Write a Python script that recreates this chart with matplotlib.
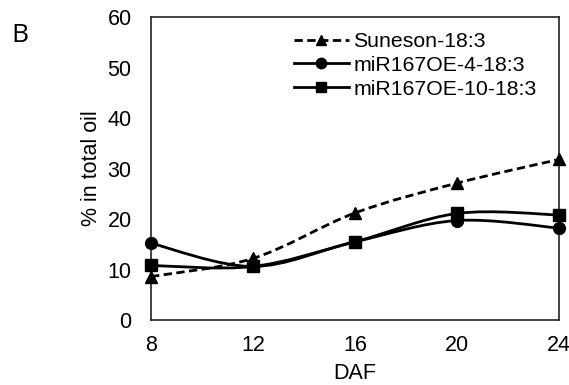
import numpy as np
import matplotlib
matplotlib.use('Agg')
import matplotlib.pyplot as plt
from matplotlib.path import Path
from matplotlib.patches import PathPatch
from matplotlib.lines import Line2D

plt.rcParams.update({
    'font.family': 'Liberation Sans',
    'font.size': 15.5,
})

daf = [8, 12, 16, 20, 24]
suneson = [8.6, 12.2, 21.2, 27.1, 31.8]
oe4 = [15.2, 10.6, 15.5, 19.7, 18.2]
oe10 = [10.8, 10.6, 15.5, 21.1, 20.8]

series = [
    ('Suneson-18:3', suneson, '^', (0, (3.0, 1.6))),
    ('miR167OE-4-18:3', oe4, 'o', '-'),
    ('miR167OE-10-18:3', oe10, 's', '-'),
]


def smooth_path(x, y):
    # Excel-style smoothed line: cubic Bezier with Catmull-Rom tangents
    pts = np.column_stack([x, y]).astype(float)
    n = len(pts)
    verts = [pts[0]]
    codes = [Path.MOVETO]
    for i in range(n - 1):
        p0 = pts[i - 1] if i > 0 else pts[i]
        p1, p2 = pts[i], pts[i + 1]
        p3 = pts[i + 2] if i + 2 < n else pts[i + 1]
        c1 = p1 + (p2 - p0) / 6.0
        c2 = p2 - (p3 - p1) / 6.0
        verts += [c1, c2, p2]
        codes += [Path.CURVE4] * 3
    return Path(verts, codes)


fig = plt.figure(figsize=(5.69, 3.85), dpi=100)
ax = fig.add_axes([0.2654, 0.1688, 0.7170, 0.7870])

handles = []
for label, vals, mk, ls in series:
    patch = PathPatch(smooth_path(daf, vals), facecolor='none', edgecolor='black',
                      linewidth=2.0, linestyle=ls, capstyle='butt')
    ax.add_patch(patch)
    ax.plot(daf, vals, linestyle='none', marker=mk, color='black', markersize=8.5,
            clip_on=False, zorder=3)
    handles.append(Line2D([], [], color='black', linestyle=ls, linewidth=2.0,
                          marker=mk, markersize=7.5, label=label))

ax.set_xlim(8, 24)
ax.set_ylim(0, 60)
ax.set_xticks(daf)
ax.set_yticks(range(0, 61, 10))
ax.tick_params(length=0, pad=11)
ax.tick_params(axis='y', pad=14)
for sp in ax.spines.values():
    sp.set_linewidth(1.2)
    sp.set_color('#222222')

ax.set_xlabel('DAF', labelpad=5)
ax.set_ylabel('% in total oil', labelpad=4)

ax.legend(handles=handles, loc='upper left', bbox_to_anchor=(0.35, 0.95),
          frameon=False, fontsize=15.3, handlelength=2.6, handletextpad=0.2,
          labelspacing=0.22, borderpad=0, borderaxespad=0)

fig.text(0.02, 0.909, 'B', fontsize=19, family='Open Sans', va='center', ha='left')

fig.savefig('out.png', dpi=100)
